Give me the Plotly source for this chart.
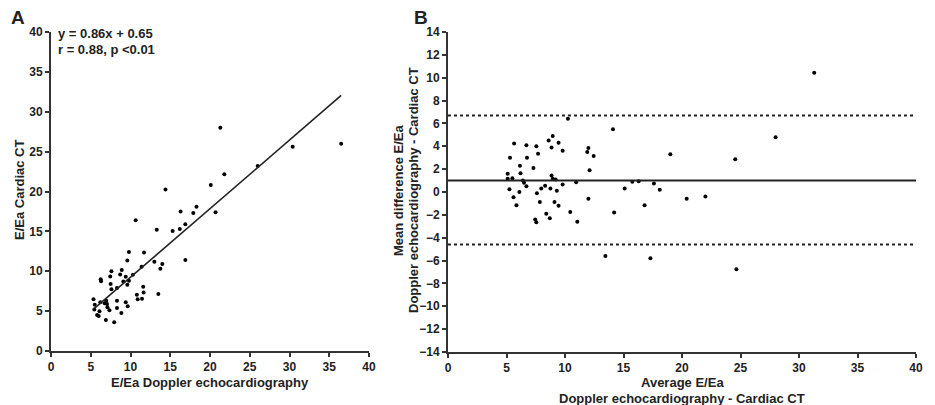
import plotly.graph_objects as go

# ---------------- Panel A data: E/Ea Doppler vs E/Ea Cardiac CT ----------------
doppler_a = [14.4, 20.1, 20.7, 16.3, 18.3, 17.9, 16.9, 16.2, 15.3, 13.3, 10.65, 16.9,
             14.0, 13.75, 13.0, 13.5, 9.8, 11.7, 9.6, 11.4, 10.3, 8.9, 7.6, 7.45, 8.7,
             9.4, 9.8, 9.1, 9.6, 8.3, 7.5, 7.6, 6.25, 6.3, 11.6, 11.65, 10.8, 10.9,
             11.45, 8.3, 9.4, 9.65, 8.3, 8.85, 7.35, 7.95, 6.9, 7.05, 6.95, 6.2, 5.35,
             5.5, 5.45, 6.1, 5.8, 6.0, 7.1, 6.75, 21.3, 36.5, 30.4, 26.0, 21.8]
ct_a = [20.25, 20.8, 17.4, 17.5, 18.1, 17.3, 15.9, 15.3, 15.05, 15.2, 16.4, 11.4,
        10.9, 10.3, 11.2, 7.15, 12.4, 12.35, 11.35, 10.55, 9.55, 10.15, 10.0, 9.35, 9.6,
        9.3, 8.8, 8.7, 8.3, 7.9, 8.4, 7.75, 9.0, 8.75, 8.05, 7.35, 7.05, 6.5,
        6.55, 6.3, 6.1, 5.6, 5.4, 4.75, 5.1, 3.6, 3.9, 5.9, 6.3, 6.1, 6.5,
        5.8, 5.2, 5.0, 4.5, 4.4, 5.5, 6.0, 28.0, 26.0, 25.6, 23.2, 22.15]
slope = 0.86
intercept = 0.65

# ---------------- Panel B data: Bland-Altman ----------------
avg_b = [31.3, 28.0, 24.55, 19.0, 14.1, 10.25, 12.0, 11.9, 12.45, 12.1, 10.95, 8.95,
         8.6, 9.45, 8.85, 9.8, 5.65, 6.7, 7.55, 7.7, 5.3, 6.75, 6.15, 7.3, 6.2, 5.1,
         5.5, 5.1, 6.4, 6.5, 6.7, 8.85, 8.95, 9.2, 9.8, 8.3, 7.97, 8.75, 9.3, 7.6,
         6.1, 5.25, 5.6, 15.1, 15.75, 16.3, 17.6, 18.1, 20.4, 22.0, 12.0, 5.85,
         7.85, 9.1, 9.45, 8.4, 8.7, 7.45, 7.55, 10.45, 11.05, 14.2, 16.8, 13.45,
         17.3, 24.65]
diff_b = [10.44, 4.8, 2.87, 3.3, 5.5, 6.4, 3.85, 3.5, 3.15, 1.9, 0.85, 4.9,
          4.5, 4.3, 3.9, 3.6, 4.25, 4.1, 4.0, 3.35, 3.0, 3.0, 2.3, 2.1, 1.65, 1.6,
          1.2, 1.15, 1.0, 0.8, 0.5, 1.45, 1.15, 1.1, 0.65, 0.55, 0.3, 0.3, 0.1, -0.1,
          0.0, 0.25, -0.45, 0.3, 0.9, 0.95, 0.75, 0.2, -0.6, -0.4, -0.6, -1.15,
          -0.87, -0.87, -1.2, -1.9, -2.3, -2.4, -2.65, -1.75, -2.6, -1.8, -1.15, -5.6,
          -5.8, -6.75]
mean_diff = 1.0
upper_loa = 6.7
lower_loa = -4.6

a_ticks = [0, 5, 10, 15, 20, 25, 30, 35, 40]
b_yticks = list(range(-14, 15, 2))

FONT = "Liberation Sans, Arial, sans-serif"
TXT = "#222222"

fig = go.Figure()

# Panel A
fig.add_trace(go.Scatter(x=doppler_a, y=ct_a, mode="markers",
                         marker=dict(color="black", size=4), xaxis="x", yaxis="y",
                         showlegend=False))
xmin, xmax = min(doppler_a), max(doppler_a)
fig.add_trace(go.Scatter(x=[xmin, xmax], y=[slope * xmin + intercept, slope * xmax + intercept],
                         mode="lines", line=dict(color="#222", width=1.6),
                         xaxis="x", yaxis="y", showlegend=False))

# Panel B
fig.add_trace(go.Scatter(x=avg_b, y=diff_b, mode="markers",
                         marker=dict(color="black", size=4), xaxis="x2", yaxis="y2",
                         showlegend=False))
fig.add_trace(go.Scatter(x=[0, 40], y=[mean_diff, mean_diff], mode="lines",
                         line=dict(color="#222", width=2), xaxis="x2", yaxis="y2",
                         showlegend=False))
for v in (upper_loa, lower_loa):
    fig.add_trace(go.Scatter(x=[0, 40], y=[v, v], mode="lines",
                             line=dict(color="#222", width=2, dash="dot"),
                             xaxis="x2", yaxis="y2", showlegend=False))

axis_common = dict(showline=True, linecolor="#333", linewidth=2, ticks="outside",
                   ticklen=4, tickwidth=1.5, tickcolor="#333", showgrid=False,
                   zeroline=False, automargin=False,
                   tickfont=dict(family=FONT, size=12, color=TXT, weight="bold"))

fig.update_layout(
    width=935, height=405, margin=dict(l=0, r=0, t=0, b=0),
    paper_bgcolor="white", plot_bgcolor="white",
    xaxis=dict(domain=[51 / 935, 369 / 935], range=[0, 40], tickvals=a_ticks,
               anchor="y", **axis_common),
    yaxis=dict(domain=[54 / 405, 373 / 405], range=[0, 40], tickvals=a_ticks,
               anchor="x", **axis_common),
    xaxis2=dict(domain=[448 / 935, 916 / 935], range=[0, 40], tickvals=a_ticks,
                anchor="y2", **axis_common),
    yaxis2=dict(domain=[53 / 405, 373 / 405], range=[-14, 14], tickvals=b_yticks,
                anchor="x2", **axis_common),
)

def ann(text, x, y, size=13, angle=0, xanchor="center", yanchor="middle"):
    fig.add_annotation(text=text, x=x / 935, y=1 - y / 405, xref="paper", yref="paper",
                       showarrow=False, textangle=angle, xanchor=xanchor, yanchor=yanchor,
                       font=dict(family=FONT, size=size, color=TXT, weight="bold"))

ann("A", 9, 18, size=19, xanchor="left")
ann("B", 412, 18, size=19, xanchor="left")
ann("y = 0.86x + 0.65", 56, 34, size=13, xanchor="left")
ann("r = 0.88, p <0.01", 56, 49, size=13, xanchor="left")
ann("E/Ea Cardiac CT", 19, 190, angle=-90)
ann("E/Ea Doppler echocardiography", 210, 382)
ann("Average E/Ea", 682, 382)
ann("Doppler echocardiography - Cardiac CT", 682, 398)
ann("Mean difference E/Ea", 398, 190, angle=-90)
ann("Doppler echocardiography - Cardiac CT", 413, 190, angle=-90)

fig.write_html("out.html", config={"displayModeBar": False},
               post_script="document.body.style.margin='0';document.body.style.overflow='hidden';")
